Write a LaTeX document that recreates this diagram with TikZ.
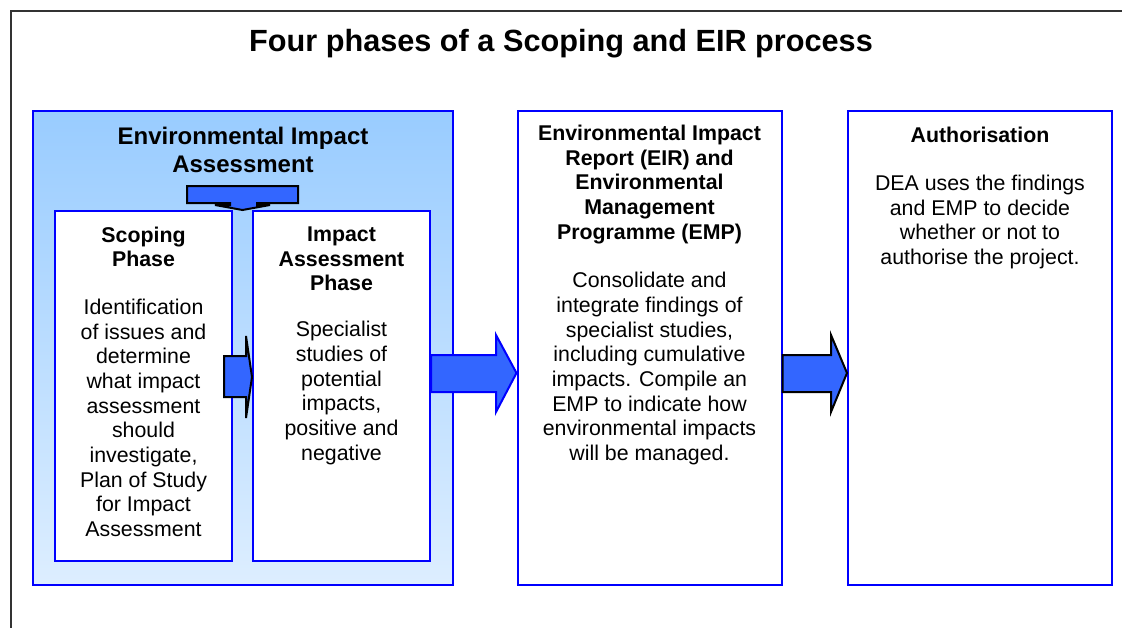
\documentclass[tikz,border=0pt]{standalone}
\usepackage{fontspec}
\setmainfont{Liberation Sans}
\usepackage{tikz}
\usetikzlibrary{calc}
\definecolor{framegray}{HTML}{333333}
\definecolor{boxblue}{HTML}{0000FF}
\definecolor{arrowblue}{HTML}{3366FF}
\definecolor{eiatop}{HTML}{99CCFF}
\definecolor{eiabottom}{HTML}{DDEEFF}
\tikzstyle{phasebox}=[draw=boxblue,%
                      line width=1.5pt,%
                      rectangle,%
                      fill=white,%
                      minimum width=198pt,%
                      minimum height=355.5pt]
\tikzstyle{innerbox}=[draw=boxblue,line width=1.5pt,rectangle,fill=white,minimum width=132.75pt,minimum height=262.5pt]
\tikzstyle{headtext}=[align=center,inner sep=0pt,font=\bfseries\fontsize{16}{18.5}\selectfont]
\tikzstyle{bodytext}=[align=center,inner sep=0pt,font=\fontsize{16}{18.5}\selectfont]
\tikzstyle{blockarrow}=[fill=arrowblue,draw=black,line width=1.5pt,line join=miter]

\begin{document}
\begin{tikzpicture}[x=0.75pt,y=-0.75pt]
  \useasboundingbox (0,0) rectangle (1122,628);
  \clip (0,0) rectangle (1122,628);
  \draw[framegray,line width=1.6pt] (11,11) rectangle (1140,650);
  \node[headtext,font=\bfseries\fontsize{23}{26}\selectfont] (title) at (561,44) {Four phases of a Scoping and EIR process};

  \node[phasebox,top color=eiatop,bottom color=eiabottom,minimum width=315pt] (eia) at (243,348) {};
  \node[headtext,font=\bfseries\fontsize{18}{20.5}\selectfont] (eiahead) at (243,150) {Environmental Impact\\Assessment};
  \node[innerbox] (scoping) at (143.5,386) {};
  \node[innerbox] (impact) at (341.5,386) {};
  \node[phasebox] (eir) at (649.5,348) {};
  \node[phasebox] (auth) at (980,348) {};

  \node[headtext] (scopehead) at (scoping |- 0,247) {Scoping\\Phase};
  \node[bodytext] (scopetxt) at (scoping |- 0,418) {Identification\\of issues and\\determine\\what impact\\assessment\\should\\investigate,\\Plan of Study\\for Impact\\Assessment};
  \node[headtext] (impacthead) at (impact |- 0,259) {Impact\\Assessment\\Phase};
  \node[bodytext] (impacttxt) at (impact |- 0,393) {Specialist\\studies of\\potential\\impacts,\\positive and\\negative};
  \node[headtext] (eirhead) at (eir |- 0,184.5) {Environmental Impact\\Report (EIR) and\\Environmental\\Management\\Programme (EMP)};
  \node[bodytext] (eirtxt) at (eir |- 0,368.5) {Consolidate and\\integrate findings of\\specialist studies,\\including cumulative\\impacts. Compile an\\EMP to indicate how\\environmental impacts\\will be managed.};
  \node[headtext] (authhead) at (auth |- 0,135) {Authorisation};
  \node[bodytext] (authtxt) at (auth |- 0,222) {DEA uses the findings\\and EMP to decide\\whether or not to\\authorise the project.};

  % arrow from the EIA title down into the two phases
  \draw[blockarrow] (187,186) -- (298,186) -- (298,203) -- (257,203) -- (257,205) -- (270,205)
        -- ($(scoping.north east)!0.5!(impact.north west)$) -- (215,205) -- (230,205) -- (230,203) -- (187,203) -- cycle;
  % scoping -> impact
  \draw[blockarrow] (224,356) -- (246,356) -- (246,336) -- (impact.west |- 0,377) -- (246,418) -- (246,397) -- (224,397) -- cycle;
  % impact -> eir
  \draw[blockarrow,draw=boxblue] (impact.east |- 0,355) -- (496,355) -- (496,335) -- (eir.west |- 0,373) -- (496,412) -- (496,392) -- (impact.east |- 0,392) -- cycle;
  % eir -> authorisation
  \draw[blockarrow] (eir.east |- 0,355) -- (831,355) -- (831,335) -- (auth.west |- 0,373) -- (831,412) -- (831,392) -- (eir.east |- 0,392) -- cycle;
\end{tikzpicture}
\end{document}
